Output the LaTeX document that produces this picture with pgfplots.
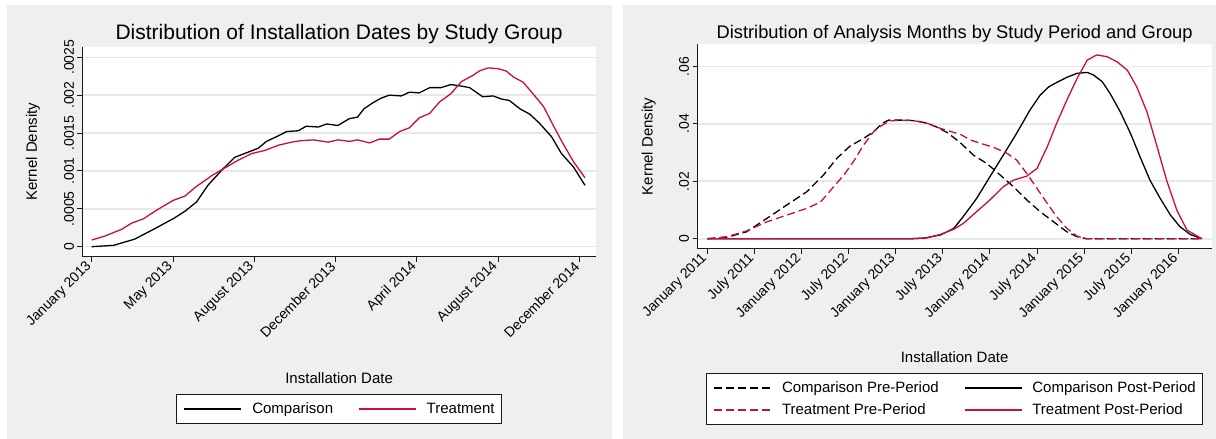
\documentclass[border=0pt]{standalone}
\usepackage{pgfplots}
\pgfplotsset{compat=1.18}
\usepackage{fontspec}
\setmainfont{Liberation Sans}

\definecolor{panel}{RGB}{239,239,239}
\definecolor{gridc}{RGB}{232,232,232}
\definecolor{trt}{RGB}{200,16,62}
\definecolor{axc}{RGB}{25,25,25}

\newcommand\fsTitleA{\fontsize{21}{24}\selectfont}
\newcommand\fsTitleB{\fontsize{18.3}{21}\selectfont}
\newcommand\fsLab{\fontsize{15}{18}\selectfont}
\newcommand\fsTick{\fontsize{14}{16}\selectfont}

\pgfplotsset{
  statagraph/.style={
    scale only axis,
    axis background/.style={fill=white},
    axis x line*=bottom, axis y line*=left,
    axis line style={axc, line width=0.9pt},
    tick style={axc, line width=0.9pt},
    major tick length=5pt,
    tick align=outside,
    scaled y ticks=false,
    ymajorgrids, grid style={gridc, line width=1.6pt},
    tick label style={font=\fsTick},
    xticklabel style={rotate=45, anchor=east},
    yticklabel style={rotate=90, anchor=south},
    label style={font=\fsLab},
    every axis title shift=0pt,
    legend style={draw=axc, line width=0.8pt, fill=white, font=\fsLab,
      anchor=north, inner xsep=7pt, inner ysep=7pt, row sep=8pt,
      nodes={inner ysep=1pt, inner xsep=0pt},
      /tikz/every odd column/.append style={column sep=10pt},
      /tikz/every even column/.append style={column sep=25pt}},
    legend cell align=left,
    legend image code/.code={\draw[##1, line width=1.6pt] (0pt,0pt) -- (57pt,0pt);},
    every axis plot/.append style={line width=1.3pt, line join=round},
  },
}

\begin{document}
\begin{tikzpicture}
\useasboundingbox (0pt,0pt) rectangle (1216pt,439pt);
\fill[white] (0pt,0pt) rectangle (1216pt,439pt);
\fill[panel] (6.7pt,0pt) rectangle (611.7pt,434pt);
\fill[panel] (622.7pt,0pt) rectangle (1216pt,434pt);

% ---- Installation dates by study group ----
\begin{axis}[statagraph,
  at={(82.5pt,182.3pt)}, anchor=south west,
  width=513.2pt, height=210pt,
  xmin=-0.113, xmax=6.202,
  ymin=-0.000132, ymax=0.00264,
  xtick={0,1,2,3,4,5,6},
  xticklabels={January 2013, May 2013, August 2013, December 2013, April 2014, August 2014, December 2014},
  ytick={0,0.0005,0.001,0.0015,0.002,0.0025},
  yticklabels={0,.0005,.001,.0015,.002,.0025},
  title={Distribution of Installation Dates by Study Group},
  title style={at={(axis description cs:0.5,1.032)}, anchor=base, font=\fsTitleA},
  xlabel={Installation Date},
  xlabel style={at={(axis description cs:0.5,-0.579)}, anchor=center},
  ylabel={Kernel Density},
  ylabel style={at={(axis description cs:-0.0965,0.5)}, anchor=center},
  legend columns=2,
  legend style={at={(axis description cs:0.5,-0.655)}},
]
\addplot[black] coordinates {
 (0,0) (0.27,0.000018) (0.53,0.0001) (0.78,0.00024) (1.02,0.00038) (1.15,0.00047)
 (1.29,0.00059) (1.43,0.00081) (1.60,0.00101) (1.76,0.00118) (1.93,0.00125)
 (2.05,0.0013) (2.15,0.00139) (2.27,0.00145) (2.40,0.00152) (2.54,0.00153)
 (2.64,0.00159) (2.79,0.00158) (2.89,0.00162) (3.03,0.0016) (3.17,0.00169)
 (3.27,0.00171) (3.35,0.00182) (3.46,0.0019) (3.56,0.00196) (3.66,0.002)
 (3.81,0.00199) (3.91,0.00204) (4.03,0.00203) (4.16,0.0021) (4.30,0.0021)
 (4.42,0.00214) (4.55,0.00212) (4.65,0.0021) (4.73,0.00204) (4.81,0.00198)
 (4.94,0.00199) (5.04,0.00195) (5.14,0.00193) (5.27,0.00182) (5.39,0.00175)
 (5.51,0.00163) (5.66,0.00145) (5.78,0.00123) (5.93,0.00105) (6.07,0.00081)
};
\addlegendentry{Comparison}
\addplot[trt] coordinates {
 (0,0.000088) (0.16,0.00014) (0.37,0.00023) (0.49,0.00031) (0.64,0.00037)
 (0.78,0.00047) (1.00,0.00061) (1.15,0.00067) (1.27,0.00078) (1.48,0.00094)
 (1.64,0.00104) (1.80,0.00114) (1.97,0.00123) (2.13,0.00127) (2.30,0.00134)
 (2.46,0.00138) (2.58,0.0014) (2.73,0.00141) (2.91,0.00138) (3.03,0.00141)
 (3.17,0.00139) (3.27,0.00141) (3.42,0.00137) (3.54,0.00142) (3.66,0.00142)
 (3.79,0.00152) (3.91,0.00157) (4.03,0.0017) (4.16,0.00176) (4.28,0.00191)
 (4.42,0.00202) (4.55,0.00218) (4.69,0.00226) (4.77,0.00232) (4.88,0.00236)
 (5.00,0.00235) (5.10,0.00232) (5.19,0.00224) (5.31,0.00217) (5.43,0.00202)
 (5.56,0.00185) (5.68,0.0016) (5.80,0.00136) (5.93,0.00112) (6.07,0.00091)
};
\addlegendentry{Treatment}
\end{axis}

% ---- Analysis months by study period and group ----
\begin{axis}[statagraph,
  at={(697.5pt,190.3pt)}, anchor=south west,
  width=514.2pt, height=204.4pt,
  xmin=-1.25, xmax=64.25,
  ymin=-0.00348, ymax=0.0677,
  xtick={0,6,12,18,24,30,36,42,48,54,60},
  xticklabels={January 2011, July 2011, January 2012, July 2012, January 2013, July 2013, January 2014, July 2014, January 2015, July 2015, January 2016},
  ytick={0,0.02,0.04,0.06},
  yticklabels={0,.02,.04,.06},
  title={Distribution of Analysis Months by Study Period and Group},
  title style={at={(axis description cs:0.5,1.0294)}, anchor=base, font=\fsTitleB},
  xlabel={Installation Date},
  xlabel style={at={(axis description cs:0.5,-0.531)}, anchor=center},
  ylabel={Kernel Density},
  ylabel style={at={(axis description cs:-0.0949,0.5)}, anchor=center},
  legend columns=2,
  legend style={at={(axis description cs:0.5,-0.6096)}},
]
\addplot[black, dash pattern=on 8pt off 4pt] coordinates {
 (0,0) (2.5,0.0005) (5.0,0.0024) (7.6,0.0071) (10.1,0.0117) (12.7,0.0164)
 (14.8,0.0222) (16.5,0.028) (18.2,0.0323) (19.9,0.0349) (21.2,0.0373)
 (22.3,0.0402) (23.1,0.0413) (24.2,0.0413) (25.4,0.0413) (26.7,0.041)
 (28.0,0.0402) (29.3,0.0388) (30.6,0.0369) (32.2,0.0335) (33.9,0.0291)
 (35.6,0.0262) (37.3,0.0222) (39.0,0.0181) (40.7,0.0135) (42.4,0.0094)
 (44.1,0.0059) (45.8,0.0024) (47.1,0.0007) (48.3,0) (63.0,0)
};
\addlegendentry{Comparison Pre-Period}
\addplot[black] coordinates {
 (0,0) (26.0,0) (27.6,0.0002) (29.7,0.0013) (31.4,0.0036) (32.6,0.0077)
 (34.3,0.014) (36.0,0.0216) (37.7,0.0291) (39.4,0.0367) (41.1,0.0448)
 (42.4,0.05) (43.5,0.0529) (44.5,0.0544) (45.8,0.0562) (47.1,0.0576)
 (48.4,0.0579) (49.2,0.057) (50.3,0.0547) (51.3,0.0506) (52.6,0.0442)
 (53.9,0.0367) (55.2,0.028) (56.4,0.0203) (57.7,0.014) (59.0,0.0082)
 (60.2,0.0042) (61.5,0.0015) (63.0,0)
};
\addlegendentry{Comparison Post-Period}
\addplot[trt, dash pattern=on 8pt off 4pt] coordinates {
 (0,0) (2.5,0.0007) (5.0,0.0027) (7.6,0.0059) (10.1,0.0082) (12.7,0.0106)
 (14.4,0.0127) (16.1,0.0181) (17.4,0.0222) (18.6,0.0268) (19.9,0.0326)
 (21.2,0.0373) (22.3,0.0396) (23.3,0.041) (24.6,0.0413) (26.3,0.0411)
 (28.0,0.0402) (29.7,0.0384) (31.4,0.037) (32.2,0.0364) (33.5,0.0344)
 (34.8,0.0332) (36.5,0.0318) (38.2,0.0297) (39.4,0.0274) (40.7,0.0227)
 (42.0,0.0175) (43.3,0.0123) (44.5,0.0077) (45.8,0.0036) (47.1,0.0009)
 (48.3,0) (63.0,0)
};
\addlegendentry{Treatment Pre-Period}
\addplot[trt] coordinates {
 (0,0) (26.0,0) (28.0,0.0003) (29.7,0.0015) (31.4,0.0033) (32.6,0.0053)
 (34.3,0.0094) (36.0,0.0135) (37.7,0.0181) (39.0,0.0204) (40.7,0.0218)
 (42.0,0.0245) (43.3,0.032) (44.5,0.0402) (45.8,0.0483) (47.1,0.0558)
 (48.4,0.0622) (49.6,0.064) (50.9,0.0634) (52.2,0.0616) (53.5,0.0587)
 (54.7,0.0529) (56.0,0.0442) (57.3,0.032) (58.5,0.0204) (59.8,0.01)
 (61.1,0.003) (63.0,0)
};
\addlegendentry{Treatment Post-Period}
\end{axis}
\end{tikzpicture}
\end{document}
